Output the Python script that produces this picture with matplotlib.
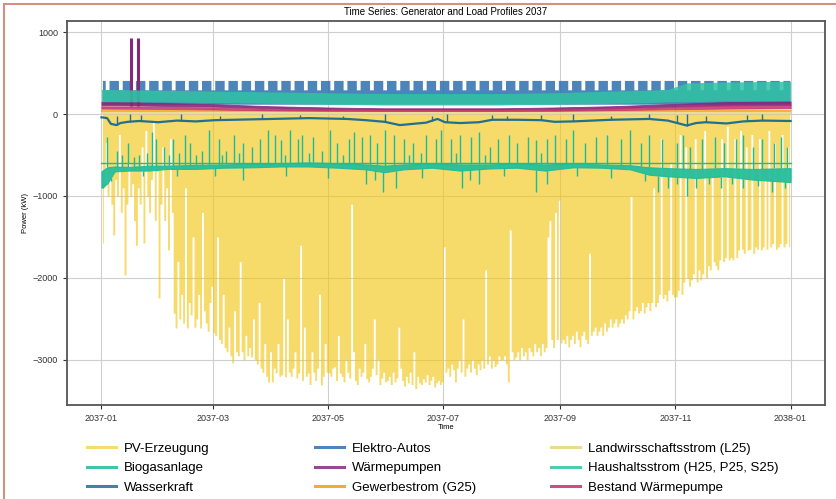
import numpy as np
import pandas as pd
import matplotlib
matplotlib.use("Agg")
import matplotlib.pyplot as plt
import matplotlib.dates as mdates
from matplotlib.lines import Line2D
from matplotlib.patches import Rectangle

plt.rcParams['font.family'] = ['Liberation Sans', 'DejaVu Sans']

start = pd.Timestamp("2037-01-01")
end = pd.Timestamp("2038-01-01")

# daily PV peak (kW, generation shown negative), one list per month
pv_jan = [1573, 900, 350, 1000, 700, 1100, 1476, 800, 1000, 250, 1200, 900, 1963, 1100, 600, 1000,
          850, 1300, 1600, 900, 1100, 400, 1573, 200, 1000, 1200, 800, 100, 1300, 700, 2244]
pv_feb = [1100, 400, 1300, 900, 1658, 300, 1200, 2430, 2610, 1800, 2500, 2200, 2550, 900, 2610,
          2300, 2450, 1500, 2600, 2500, 2200, 2610, 1200, 2400, 2550, 2650, 2300, 2100]
pv_mar = [2670, 2700, 1500, 2750, 2800, 2200, 2850, 2900, 2600, 2950, 3036, 2400, 2900, 2950, 1800,
          2900, 3000, 2700, 2950, 2850, 2963, 2500, 3000, 3050, 2300, 3100, 3150, 2800, 3200, 3268, 2900]
pv_apr = [3268, 3100, 3160, 2800, 3200, 3183, 2000, 3207, 2500, 3150, 3200, 3100, 2900, 3220, 3160,
          1600, 3250, 2600, 3200, 3160, 3300, 2900, 3150, 3250, 3100, 2200, 3305, 3200, 2800, 3150]
pv_may = [3160, 3200, 3100, 3085, 3250, 2700, 3160, 3200, 3268, 3000, 3150, 3220, 1100, 2900, 3250,
          3300, 3100, 3200, 3150, 2800, 3230, 3268, 3200, 3100, 2500, 3180, 3000, 3300, 3220, 3150, 3268]
pv_jun = [3250, 3200, 3300, 3150, 3268, 3220, 2600, 3100, 3250, 3320, 3200, 3280, 3150, 3300, 2900,
          3350, 3200, 3280, 3300, 3230, 3268, 3180, 3300, 3250, 3200, 3330, 3280, 3250, 3300, 3268]
pv_jul = [1620, 3150, 3100, 3200, 3050, 3120, 3268, 3100, 3000, 3150, 2500, 3200, 3100, 3050, 3150,
          3000, 3100, 3180, 3050, 3120, 3000, 3100, 1900, 3050, 2950, 3100, 3000, 3080, 3050, 2950, 3000]
pv_aug = [3000, 2950, 3050, 3268, 1415, 2900, 3000, 2963, 2900, 3000, 2850, 2950, 2900, 3000, 2850,
          2900, 2950, 2800, 2900, 2850, 2950, 2800, 2900, 2850, 1500, 1300, 2750, 2850, 1200, 2750, 1050]
pv_sep = [2793, 2750, 2800, 2700, 2841, 2750, 2700, 2800, 2650, 2750, 2841, 2700, 2650, 2750, 2800,
          1700, 2700, 2650, 2600, 2700, 2650, 2600, 2700, 2550, 2650, 2600, 2500, 2600, 2550, 2500]
pv_oct = [2597, 2550, 2500, 2550, 2450, 2500, 2400, 1000, 2500, 2400, 2350, 2427, 2400, 2300, 2427,
          2350, 2300, 2400, 2300, 900, 2350, 2300, 2200, 300, 2250, 2200, 2280, 2150, 600, 2200, 2232]
pv_nov = [2232, 2150, 250, 2200, 2050, 400, 2000, 2100, 2024, 1950, 300, 2050, 1900, 2024, 1950,
          200, 2000, 1850, 1900, 700, 1800, 1850, 1900, 1780, 300, 1800, 1750, 150, 1780, 1750]
pv_dec = [1780, 300, 1750, 1659, 200, 1650, 1700, 400, 1659, 1650, 250, 1700, 1622, 1650, 300,
          1659, 1622, 800, 1650, 200, 1622, 1580, 350, 1650, 1622, 1580, 250, 1622, 1580, 400, 1622]

# Biogasanlage: noisy band (day of year, upper, lower) plus spikes
bio_days = [0, 3, 7, 15, 25, 35, 50, 65, 80, 95, 110, 125, 140, 150, 160, 175, 190, 205, 220,
            235, 250, 265, 280, 290, 300, 315, 330, 345, 365]
bio_hi = [-700, -650, -640, -645, -630, -630, -620, -615, -605, -600, -590, -600, -615, -630, -615,
          -605, -615, -615, -605, -615, -605, -615, -625, -650, -660, -670, -660, -670, -660]
bio_lo = [-900, -850, -700, -690, -690, -670, -670, -655, -650, -640, -640, -655, -675, -710, -675,
          -655, -690, -665, -655, -690, -650, -655, -675, -740, -760, -780, -760, -800, -830]
bio_rated = -600
bio_up_days = [3, 8, 11, 14, 17, 20, 24, 27, 29, 33, 36, 38, 41, 44, 47, 50, 53, 57, 62, 64, 66, 70,
               73, 75, 80, 84, 88, 92, 95, 97, 100, 104, 106, 110, 112, 117, 121, 125, 128, 131,
               134, 138, 142, 146, 150, 155, 160, 163, 165, 169, 172, 177, 180, 185, 188, 190, 196,
               200, 203, 206, 210, 216, 220, 226, 230, 233, 236, 240, 246, 250, 256, 262, 268, 275,
               280, 286, 290, 297, 305, 308, 312, 318, 325, 330, 336, 340, 345, 350, 356, 360, 363]
bio_up_top = [-280, -450, -500, -350, -520, -500, -480, -220, -300, -400, -500, -300, -480, -250,
              -350, -500, -450, -200, -300, -500, -450, -250, -480, -350, -400, -300, -200, -250,
              -320, -500, -200, -300, -250, -480, -280, -450, -200, -350, -500, -300, -220, -280,
              -250, -350, -200, -260, -300, -500, -350, -480, -250, -300, -200, -300, -480, -250,
              -280, -220, -500, -400, -300, -250, -350, -280, -320, -480, -300, -250, -300, -200,
              -350, -280, -250, -300, -200, -350, -250, -300, -350, -250, -400, -300, -280, -350,
              -300, -250, -400, -300, -350, -280, -400]
bio_dn_days = [1, 5, 22, 40, 60, 75, 98, 120, 140, 145, 149, 156, 170, 191, 195, 200, 213, 230,
               236, 252, 270, 288, 295, 300, 305, 310, 315, 322, 328, 334, 340, 348, 355, 362]
bio_dn_bottom = [-900, -820, -760, -750, -760, -800, -760, -780, -850, -800, -950, -900, -780,
                 -900, -800, -850, -760, -950, -850, -760, -780, -820, -950, -900, -850, -1000,
                 -900, -850, -900, -850, -900, -880, -950, -900]

# Wasserkraft
wk_days = [0, 3, 5, 8, 10, 14, 20, 30, 40, 50, 60, 70, 80, 90, 100, 110, 120, 130, 140, 150, 158,
           165, 172, 178, 182, 190, 200, 207, 220, 233, 240, 250, 260, 270, 280, 290, 300, 310,
           315, 320, 331, 340, 350, 365]
wk_vals = [-40, -50, -120, -135, -110, -95, -85, -100, -80, -90, -75, -70, -65, -60, -55, -50, -55,
           -60, -75, -95, -135, -120, -105, -60, -100, -110, -100, -70, -70, -75, -95, -90, -80,
           -70, -65, -60, -80, -140, -110, -100, -115, -90, -80, -85]
wk_up_days = [8, 15, 21, 42, 63, 85, 105, 128, 150, 175, 183, 207, 215, 233, 250, 270, 290, 305,
              310, 320, 342, 350]
wk_up_top = [-20, 0, -10, 0, -20, 0, -10, -20, 0, -30, 0, -10, -20, -10, 0, -20, 0, -10, 0, -20,
             -10, 0]

# Elektro-Autos: weekly charging profile Mon..Sun (kW)
ev_week_top = [410, 410, 410, 410, 410, 295, 295]
ev_base = 120

# Haushaltsstrom band
hh_days = [0, 30, 60, 90, 120, 150, 180, 210, 240, 270, 290, 300, 310, 330, 365]
hh_lo = [150, 150, 140, 130, 120, 110, 110, 110, 120, 130, 140, 150, 150, 160, 160]
hh_hi = [300, 290, 280, 270, 260, 250, 250, 250, 260, 280, 290, 300, 380, 390, 400]

# Waermepumpen band and spikes
wp_days = [0, 30, 60, 90, 120, 150, 180, 210, 240, 270, 300, 330, 365]
wp_lo = [110, 100, 90, 70, 60, 55, 55, 55, 60, 70, 90, 105, 110]
wp_hi = [150, 135, 120, 95, 80, 70, 70, 70, 80, 95, 120, 145, 155]
wp_spike_days = [15.5, 19.5]
wp_spike_top = [927, 927]

# Bestand Waermepumpe band
bwp_lo = [65, 62, 55, 45, 40, 38, 38, 38, 40, 48, 58, 65, 70]
bwp_hi = [95, 90, 80, 65, 55, 50, 50, 50, 55, 68, 85, 105, 115]

# Gewerbestrom and Landwirtschaftsstrom
g25_lo = [20, 20, 20, 20, 20, 20, 20, 20, 20, 20, 20, 20, 20]
g25_hi = [45, 45, 45, 45, 45, 45, 45, 45, 45, 45, 45, 45, 45]
l25_lo = [0, 0, 0, 0, 0, 0, 0, 0, 0, 0, 0, 0, 0]
l25_hi = [30, 30, 30, 30, 30, 30, 30, 30, 30, 30, 30, 30, 30]

labels = ["PV-Erzeugung", "Biogasanlage", "Wasserkraft",
          "Elektro-Autos", "Wärmepumpen", "Gewerbestrom (G25)",
          "Landwirsschaftsstrom (L25)", "Haushaltsstrom (H25, P25, S25)", "Bestand Wärmepumpe"]
colors = ["#f1c40f", "#1abc9c", "#22708f",
          "#2e6fae", "#85287a", "#f39c12",
          "#e4d67a", "#2fc3a3", "#c2306e"]


def to_dates(days):
    return start + pd.to_timedelta(np.asarray(days, dtype=float), unit="D")


fig = plt.figure(figsize=(8.36, 4.99), dpi=100)
ax = fig.add_axes([67 / 836, 1 - 405 / 499, (825 - 67) / 836, (405 - 21) / 499])

# PV
pv = -np.array(pv_jan + pv_feb + pv_mar + pv_apr + pv_may + pv_jun +
               pv_jul + pv_aug + pv_sep + pv_oct + pv_nov + pv_dec, dtype=float)
pv_t = to_dates(np.arange(len(pv)) + 0.5)
ax.fill_between(pv_t, 0, pv, step="mid", color=colors[0], alpha=0.62, lw=0, zorder=2)

# Biogas
bt = to_dates(bio_days)
ax.fill_between(bt, bio_lo, bio_hi, color=colors[1], alpha=0.9, lw=0.8, zorder=3)
ax.plot([start, end], [bio_rated, bio_rated], color=colors[1], lw=1.0, zorder=3)
ax.vlines(to_dates(bio_up_days), np.interp(bio_up_days, bio_days, bio_hi), bio_up_top,
          color=colors[1], lw=1.0, zorder=3)
ax.vlines(to_dates(bio_dn_days), np.interp(bio_dn_days, bio_days, bio_lo), bio_dn_bottom,
          color=colors[1], lw=1.0, zorder=3)

# Wasserkraft
ax.plot(to_dates(wk_days), wk_vals, color=colors[2], lw=1.6, zorder=4)
ax.vlines(to_dates(wk_up_days), np.interp(wk_up_days, wk_days, wk_vals), wk_up_top,
          color=colors[2], lw=1.0, zorder=4)

# Elektro-Autos
ev_t = to_dates(np.arange(365) + 0.5)
ev_top = np.array(ev_week_top)[ev_t.dayofweek]
ax.fill_between(ev_t, ev_base, ev_top, step="mid", color=colors[3], alpha=0.85, lw=0, zorder=4)

# Waermepumpen
wt = to_dates(wp_days)
ax.fill_between(wt, wp_lo, wp_hi, color=colors[4], alpha=0.9, lw=0.6, zorder=5)
ax.vlines(to_dates(wp_spike_days), 100, wp_spike_top, color=colors[4], lw=2.2, zorder=5)

# Gewerbe, Landwirtschaft
ax.fill_between(wt, g25_lo, g25_hi, color=colors[5], alpha=0.8, lw=0, zorder=5)
ax.fill_between(wt, l25_lo, l25_hi, color=colors[6], alpha=0.8, lw=0, zorder=5)

# Haushalt
ax.fill_between(to_dates(hh_days), hh_lo, hh_hi, color=colors[7], alpha=0.85, lw=0, zorder=6)

# Bestand Waermepumpe
ax.fill_between(wt, bwp_lo, bwp_hi, color=colors[8], alpha=0.85, lw=0.6, zorder=7)

ax.set_xlim(start - pd.Timedelta(days=18.25), end + pd.Timedelta(days=18.25))
ax.set_ylim(-3550, 1135)
ax.set_yticks([-3000, -2000, -1000, 0, 1000])
ax.xaxis.set_major_locator(mdates.MonthLocator(bymonth=[1, 3, 5, 7, 9, 11]))
ax.xaxis.set_major_formatter(mdates.DateFormatter("%Y-%m"))
ax.tick_params(labelsize=6.5, length=3, width=0.8, colors="#333333")
ax.grid(True, color="#cfcfcf", lw=0.8, zorder=0)
for s in ax.spines.values():
    s.set_linewidth(1.3)
    s.set_color("#555555")
ax.set_title("Time Series: Generator and Load Profiles 2037", fontsize=7, pad=4)
ax.set_xlabel("Time", fontsize=5.5, labelpad=1)
ax.set_ylabel("Power (kW)", fontsize=5.5, labelpad=3)

# legend in three columns placed under the axes
col_x = [80 / 836, 308 / 836, 544 / 836]
for c in range(3):
    handles = [Line2D([], [], color=colors[3 * c + r], lw=2.2, alpha=0.6 if 3 * c + r == 0 else 0.85)
               for r in range(3)]
    fig.legend(handles, labels[3 * c:3 * c + 3], loc="upper left",
               bbox_to_anchor=(col_x[c], 1 - 436 / 499), frameon=False, fontsize=9.5,
               handlelength=2.2, handletextpad=0.6, labelspacing=0.55, borderpad=0)

fig.add_artist(Rectangle((4 / 836, -0.1), 1.2, 1.1 - 4 / 499, transform=fig.transFigure,
                         fill=False, edgecolor="#d4917f", lw=1.5))

fig.savefig("out.png", dpi=100)
